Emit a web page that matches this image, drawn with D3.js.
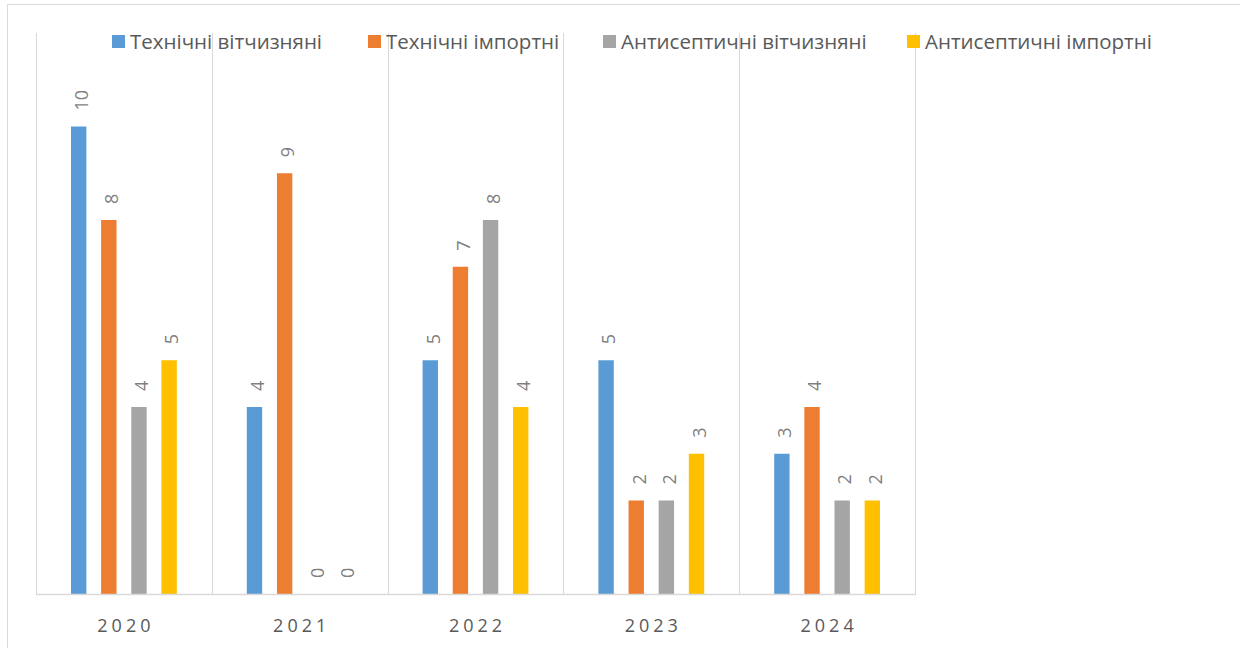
<!DOCTYPE html>
<html>
<head>
<meta charset="utf-8">
<script src="https://cdn.jsdelivr.net/npm/d3@7"></script>
<style>
  html, body { margin: 0; padding: 0; background: #fff; }
  svg { display: block; font-family: "Open Sans", "Noto Sans", sans-serif; }
</style>
</head>
<body>
<svg id="chart" width="1240" height="648"></svg>
<script>
const years = ['2020', '2021', '2022', '2023', '2024'];
const seriesNames = ['Технічні вітчизняні', 'Технічні імпортні', 'Антисептичні вітчизняні', 'Антисептичні імпортні'];
const colors = ['#5B9BD5', '#ED7D31', '#A5A5A5', '#FFC000'];
const techDomestic = [10, 4, 5, 5, 3];
const techImport = [8, 9, 7, 2, 4];
const antiDomestic = [4, 0, 8, 2, 2];
const antiImport = [5, 0, 4, 3, 2];
const legendX = [112, 368, 603, 907];

const values = [techDomestic, techImport, antiDomestic, antiImport];

const svg = d3.select('#chart');
const plot = { left: 36, right: 915, top: 33, bottom: 594 };

// outer frame of the chart area
svg.append('rect')
  .attr('x', 7.5).attr('y', 4.5)
  .attr('width', 1260).attr('height', 660)
  .attr('fill', 'none')
  .attr('stroke', '#D9D9D9');

const x0 = d3.scaleBand().domain(years).range([plot.left, plot.right]).padding(0);
const x1 = d3.scaleBand().domain(d3.range(4))
  .range([35, x0.bandwidth() - 35])
  .paddingInner(0.49).paddingOuter(0);
const y = d3.scaleLinear().domain([0, 12]).range([plot.bottom, plot.top]);

// vertical category separators
const seps = years.map(d => x0(d)).concat([plot.right]);
svg.append('g').selectAll('line')
  .data(seps).enter().append('line')
  .attr('x1', d => Math.round(d) + 0.5).attr('x2', d => Math.round(d) + 0.5)
  .attr('y1', plot.top).attr('y2', plot.bottom)
  .attr('stroke', '#D9D9D9').attr('stroke-width', 1);

// bars
const groups = svg.append('g').selectAll('g')
  .data(years).enter().append('g')
  .attr('transform', d => `translate(${x0(d)},0)`);

groups.selectAll('rect')
  .data((d, i) => values.map((s, k) => ({ k, v: s[i] })))
  .enter().append('rect')
  .attr('x', d => x1(d.k))
  .attr('width', x1.bandwidth())
  .attr('y', d => y(d.v))
  .attr('height', d => y(0) - y(d.v))
  .attr('fill', d => colors[d.k]);

groups.selectAll('text')
  .data((d, i) => values.map((s, k) => ({ k, v: s[i] })))
  .enter().append('text')
  .attr('transform', d => `translate(${x1(d.k) + x1.bandwidth() / 2 + 3},${y(d.v) - 16}) rotate(-90)`)
  .attr('dy', '0.35em')
  .attr('font-size', 18)
  .attr('fill', '#7F7F7F')
  .text(d => d.v);

// baseline
svg.append('line')
  .attr('x1', plot.left).attr('x2', plot.right + 1)
  .attr('y1', plot.bottom + 0.5).attr('y2', plot.bottom + 0.5)
  .attr('stroke', '#D9D9D9').attr('stroke-width', 1.5);

// category labels
svg.append('g').selectAll('text')
  .data(years).enter().append('text')
  .attr('x', d => x0(d) + x0.bandwidth() / 2 + 2)
  .attr('y', 632)
  .attr('text-anchor', 'middle')
  .attr('font-size', 18)
  .attr('letter-spacing', '4px')
  .attr('fill', '#595959')
  .text(d => d);

// legend
const leg = svg.append('g').selectAll('g')
  .data(seriesNames).enter().append('g')
  .attr('transform', (d, i) => `translate(${legendX[i]},35)`);
leg.append('rect')
  .attr('width', 13).attr('height', 13)
  .attr('fill', (d, i) => colors[i]);
leg.append('text')
  .attr('x', 18).attr('y', 14)
  .attr('font-size', 20.5)
  .attr('fill', '#595959')
  .text(d => d);
</script>
</body>
</html>
